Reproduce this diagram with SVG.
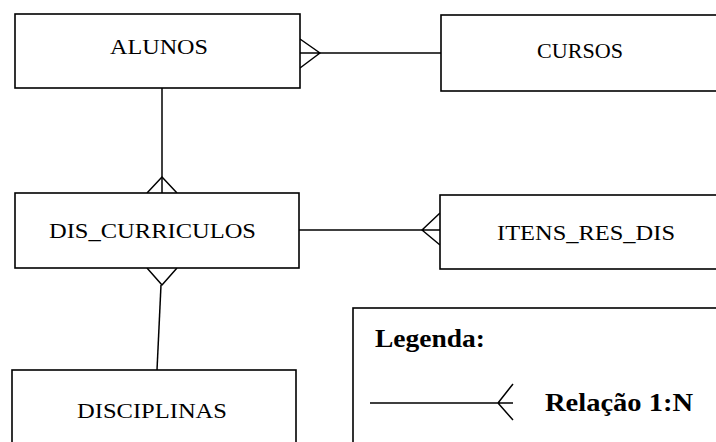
<svg xmlns="http://www.w3.org/2000/svg" width="716" height="442" viewBox="0 0 716 442">
<style>
.box{fill:#fff;stroke:#000;stroke-width:1.6}
.ln{fill:none;stroke:#000;stroke-width:1.5;stroke-linejoin:round}
text{fill:#000}
</style>
<rect width="716" height="442" fill="#fff"/>
<g id="connectors">
<path class="ln" d="M320,53 L441,53"/>
<path class="ln" d="M300,39 L320,53 L300,68 M300,53 L320,53"/>
<path class="ln" d="M162,88 L162,193"/>
<path class="ln" d="M147,193 L162,177 L177,193"/>
<path class="ln" d="M299,230 L422,230"/>
<path class="ln" d="M440,213 L422,230 L440,245 M422,230 L440,230"/>
<path class="ln" d="M147,268 L162,285 L177,268"/>
<path class="ln" d="M161,285 L157,370"/>
</g>
<g font-family="Liberation Serif, DejaVu Serif, serif" font-size="21">
<g id="alunos">
<rect class="box" x="15" y="14" width="285" height="74"/>
<text x="159" y="54" text-anchor="middle" textLength="98" lengthAdjust="spacingAndGlyphs">ALUNOS</text>
</g>
<g id="cursos">
<rect class="box" x="441" y="15" width="290" height="76"/>
<text x="580" y="58" text-anchor="middle" textLength="86" lengthAdjust="spacingAndGlyphs">CURSOS</text>
</g>
<g id="dis_curriculos">
<rect class="box" x="15" y="193" width="284" height="75"/>
<text x="152.5" y="238" text-anchor="middle" textLength="207" lengthAdjust="spacingAndGlyphs">DIS_CURRICULOS</text>
</g>
<g id="itens_res_dis">
<rect class="box" x="440" y="195" width="290" height="74"/>
<text x="586" y="240" text-anchor="middle" textLength="178" lengthAdjust="spacingAndGlyphs">ITENS_RES_DIS</text>
</g>
<g id="disciplinas">
<rect class="box" x="12" y="370" width="284" height="90"/>
<text x="152" y="418" text-anchor="middle" textLength="150" lengthAdjust="spacingAndGlyphs">DISCIPLINAS</text>
</g>
<g id="legenda">
<rect class="box" x="353" y="308" width="380" height="150"/>
<text x="375" y="347" font-size="25" font-weight="bold" textLength="110" lengthAdjust="spacingAndGlyphs">Legenda:</text>
<path class="ln" d="M370,403 L498,403 M513,384 L498,403 L513,420 M498,403 L513,403"/>
<text x="545" y="411" font-size="25" font-weight="bold" textLength="148" lengthAdjust="spacingAndGlyphs">Relação 1:N</text>
</g>
</g>
</svg>
